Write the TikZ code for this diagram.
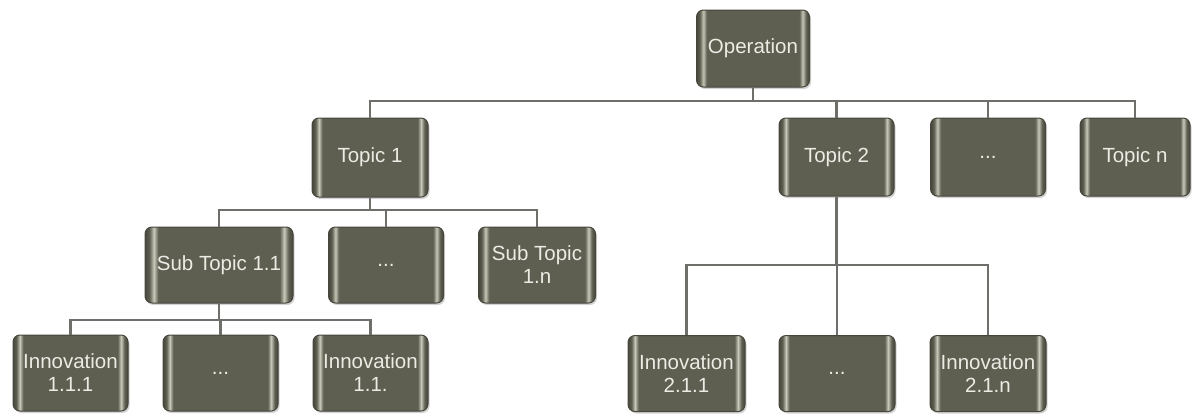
\documentclass[tikz,border=0pt]{standalone}
\usepackage{fontspec}
\setmainfont{Liberation Sans}
\usetikzlibrary{shadows}
\definecolor{boxedge}{HTML}{46463C}
\definecolor{boxbase}{HTML}{5E5E51}
\definecolor{boxlight}{HTML}{C9C9BA}
\definecolor{conncol}{HTML}{6E6E6A}
\definecolor{txtcol}{HTML}{ECECE4}
\pgfdeclarehorizontalshading{bevel}{100bp}{%
  color(0bp)=(boxedge); color(25bp)=(boxedge); color(26.5bp)=(boxbase); color(28bp)=(boxlight);
  color(29.5bp)=(boxbase); color(70.5bp)=(boxbase); color(72bp)=(boxlight);
  color(73.5bp)=(boxbase); color(75bp)=(boxedge); color(100bp)=(boxedge)}
\tikzset{
  tbox/.style={draw=boxedge, line width=1pt, shading=bevel, rounded corners=7pt,
    minimum width=115pt, minimum height=76pt, align=center, inner sep=2pt,
    text=txtcol, font=\fontsize{20.5}{23}\selectfont,
    drop shadow={opacity=0.35, shadow xshift=1.5pt, shadow yshift=-2pt}},
  conn/.style={draw=conncol, line width=2.6pt}
}
\begin{document}
\begin{tikzpicture}[x=1pt,y=-1pt]
\useasboundingbox (0,0) rectangle (1192,413);
% level 0
\node[tbox, minimum width=113pt, minimum height=77pt] (op) at (753,48.5) {Operation};
% level 1
\node[tbox, minimum width=116pt, minimum height=79pt] (t1) at (370,157.5) {Topic 1};
\node[tbox, minimum height=78pt] (t2) at (836.5,157) {Topic 2};
\node[tbox, minimum height=78pt] (tdots) at (988,157) {...};
\node[tbox, minimum width=110pt, minimum height=78pt] (tn) at (1135,157) {Topic n};
% level 2
\node[tbox, minimum width=148pt] (s11) at (219,265) {Sub Topic 1.1};
\node[tbox] (sdots) at (386,265) {...};
\node[tbox, minimum width=117pt] (s1n) at (537,265) {Sub Topic\\1.n};
% level 3
\node[tbox] (i111) at (70.5,373) {Innovation\\1.1.1};
\node[tbox] (idots1) at (220.5,373) {...};
\node[tbox] (i11n) at (370.5,373) {Innovation\\1.1.};
\node[tbox, minimum width=117pt] (i211) at (686.5,373.5) {Innovation\\2.1.1};
\node[tbox, minimum width=116pt] (idots2) at (837,373.5) {...};
\node[tbox, minimum width=116pt] (i21n) at (988,373.5) {Innovation\\2.1.n};
% connectors
\draw[conn] (op.south) -- (op.south |- 0,101);
\foreach \c in {t1,t2,tdots,tn}{
  \draw[conn] (op.south |- 0,101) -| (\c.north);
}
\draw[conn] (t1.south) -- (t1.south |- 0,210);
\foreach \c in {s11,sdots,s1n}{
  \draw[conn] (t1.south |- 0,210) -| (\c.north);
}
\draw[conn] (s11.south) -- (s11.south |- 0,320);
\foreach \c in {i111,idots1,i11n}{
  \draw[conn] (s11.south |- 0,320) -| (\c.north);
}
\draw[conn] (t2.south) -- (t2.south |- 0,265);
\foreach \c in {i211,idots2,i21n}{
  \draw[conn] (t2.south |- 0,265) -| (\c.north);
}
\end{tikzpicture}
\end{document}
